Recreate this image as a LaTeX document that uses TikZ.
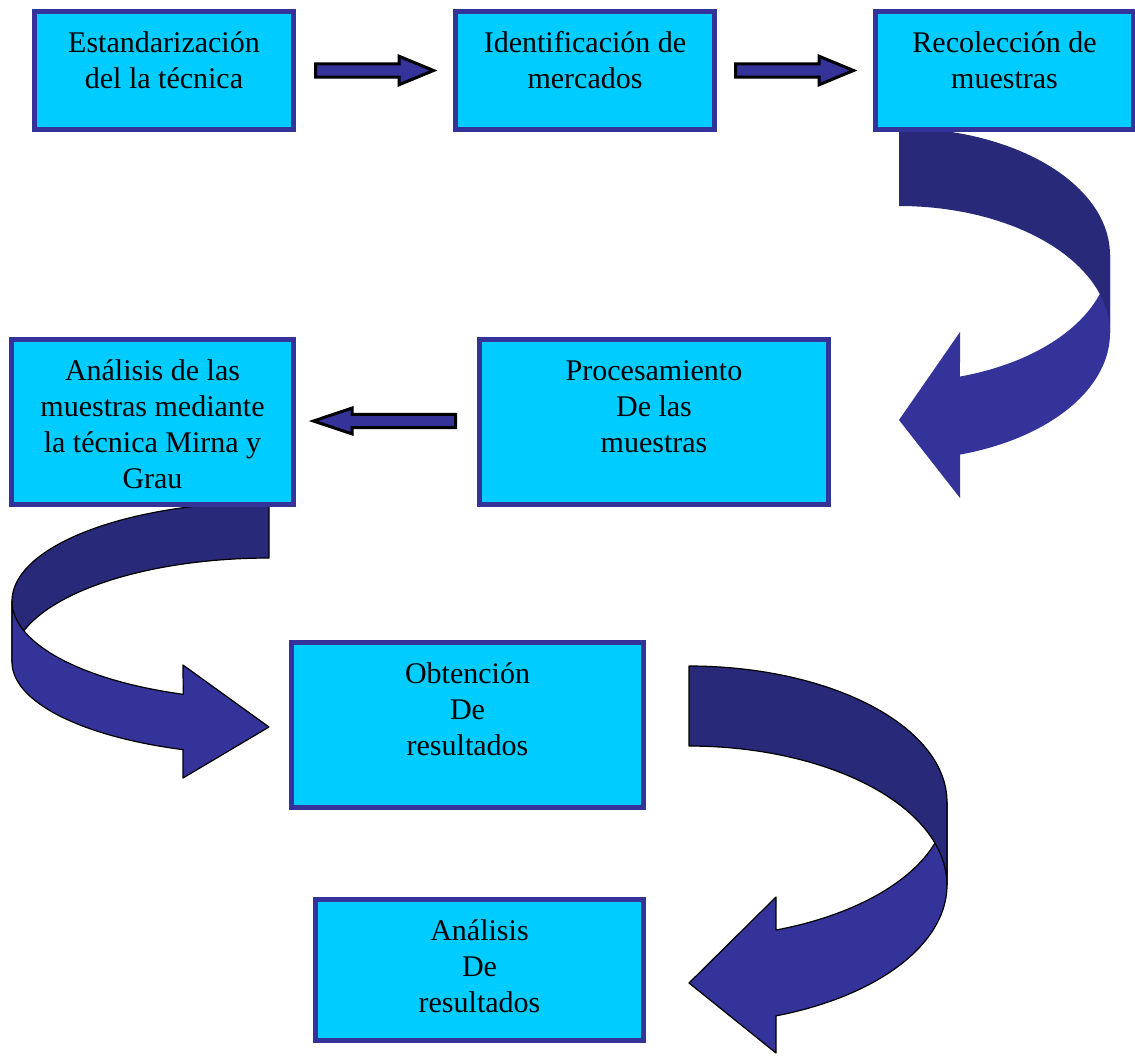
\documentclass[tikz,border=0pt]{standalone}
\usepackage{fontspec}
\setmainfont{Liberation Serif}
\usetikzlibrary{shapes.arrows,calc}
\definecolor{boxcyan}{HTML}{00CCFF}
\definecolor{boxblue}{HTML}{333399}
\definecolor{ribbonfront}{HTML}{333399}
\definecolor{ribbonback}{HTML}{29297A}
\newcommand{\firstlinestrut}{\rule{0pt}{30pt}}
\tikzset{
  stepbox/.style={draw=boxblue, fill=boxcyan, line width=5pt, inner sep=0pt},
  boxtext/.style={font=\fontsize{30}{36}\selectfont, align=center, inner sep=0pt, anchor=north, text=black},
  blockarrow/.style={single arrow, draw=black, fill=ribbonfront, line width=3pt,
    inner xsep=0pt, inner ysep=5.2pt, single arrow head extend=7.5pt,
    single arrow tip angle=45, anchor=tail},
  ribbonA/.style={fill=ribbonfront, draw=none},
  ribbonAback/.style={fill=ribbonback, draw=none},
  ribbonB/.style={fill=ribbonfront, draw=black, line width=1.2pt, line join=round},
  ribbonBback/.style={fill=ribbonback, draw=black, line width=1.2pt, line join=round},
}
\begin{document}
\begin{tikzpicture}[x=1pt,y=-1pt]
\useasboundingbox (0,0) rectangle (1135,1055);

% ---- curved ribbon 1 (Recoleccion -> Procesamiento)
\path[ribbonA] plot[domain=0:73.2,samples=50] ({899+211*cos(\x)},{255+127*sin(\x)})
  -- (960,332) -- (899,420) -- (960,498) -- (960,454.6)
  -- plot[domain=73.2:0,samples=50] ({899+211*cos(\x)},{333+127*sin(\x)}) -- cycle;
\path[ribbonAback] plot[domain=-90:0,samples=50] ({899+211*cos(\x)},{255+127*sin(\x)})
  -- (1110,333)
  -- plot[domain=0:-90,samples=50] ({899+211*cos(\x)},{333+127*sin(\x)}) -- cycle;

% ---- curved ribbon 2 (Analisis muestras -> Obtencion)
\path[ribbonBback] plot[domain=-90:-180,samples=50] ({269+257*cos(\x)},{601+99*sin(\x)})
  -- (12,662)
  -- plot[domain=-180:-90,samples=50] ({269+257*cos(\x)},{662+104*sin(\x)}) -- cycle;
\path[ribbonB] plot[domain=180:109.5,samples=50] ({269+257*cos(\x)},{601+99*sin(\x)})
  -- (183,665) -- (269,727) -- (183,778) -- (183,749.7)
  -- plot[domain=109.5:180,samples=50] ({269+257*cos(\x)},{662+93*sin(\x)}) -- cycle;

% ---- curved ribbon 3 (Obtencion -> Analisis resultados)
\path[ribbonB] plot[domain=0:70.3,samples=50] ({689+258*cos(\x)},{802+136*sin(\x)})
  -- (776,897) -- (689,983) -- (776,1053) -- (776,1015.9)
  -- plot[domain=70.3:0,samples=50] ({689+258*cos(\x)},{885+139*sin(\x)}) -- cycle;
\path[ribbonBback] plot[domain=-90:0,samples=50] ({689+258*cos(\x)},{802+136*sin(\x)})
  -- (947,885)
  -- plot[domain=0:-90,samples=50] ({689+258*cos(\x)},{885+139*sin(\x)}) -- cycle;

% ---- boxes
\node[stepbox, minimum width=259pt, minimum height=118pt] (b1) at (164,70.5) {};
\node[stepbox, minimum width=259pt, minimum height=118pt] (b2) at (585,70.5) {};
\node[stepbox, minimum width=258pt, minimum height=118pt] (b3) at (1004.5,70.5) {};
\node[stepbox, minimum width=282pt, minimum height=165pt] (b4) at (152.5,422) {};
\node[stepbox, minimum width=349pt, minimum height=165pt] (b5) at (654,422) {};
\node[stepbox, minimum width=352pt, minimum height=165pt] (b6) at (467.5,725) {};
\node[stepbox, minimum width=328pt, minimum height=141pt] (b7) at (479.5,970) {};

\node[boxtext] (t1) at ([yshift=-13.5pt]b1.north) {\firstlinestrut Estandarización\\del la técnica};
\node[boxtext] (t2) at ([yshift=-13.5pt]b2.north) {\firstlinestrut Identificación de\\mercados};
\node[boxtext] (t3) at ([yshift=-13.5pt]b3.north) {\firstlinestrut Recolección de\\muestras};
\node[boxtext] (t4) at ([yshift=-13.5pt]b4.north) {\firstlinestrut Análisis de las\\muestras mediante\\la técnica Mirna y\\Grau};
\node[boxtext] (t5) at ([yshift=-13.5pt]b5.north) {\firstlinestrut Procesamiento\\De las\\muestras};
\node[boxtext] (t6) at ([yshift=-13.5pt]b6.north) {\firstlinestrut Obtención\\De\\resultados};
\node[boxtext] (t7) at ([yshift=-13.5pt]b7.north) {\firstlinestrut Análisis\\De\\resultados};

% ---- straight block arrows
\node[blockarrow, minimum height=118pt, minimum width=25.3pt] (a1) at ($(b1.east)+(18,0)$) {};
\node[blockarrow, minimum height=118pt, minimum width=25.3pt] (a2) at ($(b2.east)+(17,0)$) {};
\node[blockarrow, minimum height=142pt, minimum width=24.3pt, single arrow head extend=6.2pt,
      single arrow tip angle=37, shape border rotate=180] (a3) at ($(b5.west)+(-20,-1)$) {};
\end{tikzpicture}
\end{document}
